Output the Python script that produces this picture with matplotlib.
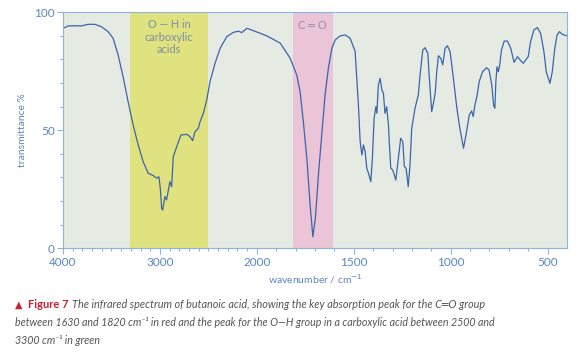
import numpy as np
import matplotlib
matplotlib.use('Agg')
from matplotlib import pyplot as plt

plt.rcParams['font.family'] = ['Lato', 'DejaVu Sans']

# wavenumber (cm-1) and transmittance (%)
wn = [4000, 3948, 3879, 3810, 3741, 3672, 3603, 3535, 3483, 3431, 3380, 3328,
      3276, 3224, 3173, 3121, 3069, 3034, 3010, 2995, 2982, 2972, 2948, 2931,
      2897, 2879, 2862, 2827, 2783, 2724, 2690, 2662, 2638, 2604, 2586, 2552,
      2517, 2483, 2431, 2379, 2310, 2241, 2190, 2155, 2103, 2035, 1948, 1879,
      1828, 1811, 1794, 1777, 1760, 1742, 1725, 1711, 1698, 1681, 1664, 1648,
      1631, 1613, 1596, 1570, 1544, 1519, 1493, 1476, 1467, 1458, 1450, 1441,
      1433, 1424, 1412, 1404, 1395, 1386, 1381, 1373, 1364, 1355, 1347, 1339,
      1330, 1321, 1316, 1309, 1299, 1283, 1270, 1258, 1247, 1239, 1230, 1219,
      1210, 1201, 1184, 1167, 1158, 1144, 1132, 1118, 1110, 1098, 1089, 1080,
      1072, 1063, 1051, 1041, 1029, 1017, 1003, 986, 969, 955, 934, 921, 904,
      892, 884, 875, 865, 853, 836, 815, 802, 788, 779, 772, 767, 761, 754,
      747, 738, 724, 707, 690, 673, 655, 638, 625, 613, 600, 588, 571, 553,
      536, 519, 507, 488, 476, 463, 451, 439, 425, 403]
trans = [93.2, 94.2, 94.3, 94.2, 94.9, 94.9, 93.9, 91.8, 89.0, 81.9, 72.7, 62.1,
         52.2, 43.8, 36.7, 31.8, 30.8, 29.7, 30.3, 25.0, 16.9, 16.2, 21.9, 20.5,
         28.2, 26.1, 38.8, 43.0, 48.0, 48.3, 47.3, 45.6, 49.4, 50.8, 53.6, 57.2,
         62.8, 70.6, 78.4, 84.7, 89.7, 91.5, 92.0, 91.4, 93.2, 92.2, 90.0, 86.9,
         80.5, 77.0, 73.4, 66.4, 53.6, 38.1, 18.3, 4.9, 12.7, 32.5, 49.4, 65.0,
         76.3, 84.7, 88.3, 90.0, 90.4, 89.0, 83.5, 60.7, 45.2, 39.5, 43.8, 40.9,
         33.9, 31.8, 28.2, 38.1, 55.1, 60.0, 57.2, 69.2, 72.0, 67.1, 65.7, 57.2,
         60.0, 52.2, 43.8, 33.9, 33.2, 28.9, 38.1, 46.6, 45.2, 34.6, 33.9, 26.1,
         35.3, 50.8, 59.3, 65.0, 73.4, 84.0, 85.0, 82.6, 72.0, 57.9, 61.4, 65.7,
         74.8, 81.6, 80.5, 77.7, 84.7, 85.8, 83.3, 72.0, 60.0, 52.0, 42.4, 48.0, 56.5,
         58.2, 55.8, 60.7, 64.2, 70.6, 74.8, 76.5, 75.6, 69.2, 60.7, 59.3, 70.6, 76.9, 74.8,
         77.7, 84.0, 87.8, 87.8, 84.7, 78.8, 81.2, 79.4, 78.4, 79.8, 81.2, 87.5, 92.5, 93.5,
         91.1, 83.3, 74.8, 69.9, 74.8, 84.7, 90.4, 91.8, 90.7, 90.1]

oh_band = (3310, 2500)
co_band = (1815, 1608)
major_ticks = [4000, 3000, 2000, 1500, 1000, 500]

blue = '#5a86c6'
spine = '#8db3e2'


# IR charts: 4000-2000 drawn at half the scale of 2000-400
def fwd(x):
    x = np.asarray(x, float)
    return np.where(x >= 2000, x / 2 + 1000, x)


def inv(y):
    y = np.asarray(y, float)
    return np.where(y >= 2000, (y - 1000) * 2, y)


fig = plt.figure(figsize=(5.81, 3.55), dpi=100)
ax = fig.add_axes([0.1084, 0.3006, 0.8675, 0.6648])
ax.set_facecolor('#e5ebe3')
ax.set_xscale('function', functions=(fwd, inv))
ax.set_xlim(4000, 400)
ax.set_ylim(0, 100)

ax.axvspan(*oh_band, color='#dfe27f', lw=0)
ax.axvspan(*co_band, color='#ebc5d7', lw=0)
ax.plot(wn, trans, color='#3b64ab', lw=0.9)

ax.text(2905, 89.5, 'O — H in\ncarboxylic\nacids', ha='center', va='center',
        fontsize=7.8, color='#7d8fa8', linespacing=1.2)
ax.text(1711, 94.5, 'C ═ O', ha='center', va='center', fontsize=8, color='#9a8cb0')

ax.set_xticks(major_ticks)
ax.set_xticklabels([str(t) for t in major_ticks])
minor = [v for v in range(500, 4000, 100) if v not in major_ticks]
ax.set_xticks(minor, minor=True)
ax.set_yticks([0, 50, 100])
ax.set_yticks(range(10, 100, 10), minor=True)
ax.tick_params(which='major', length=4, width=0.8, color=spine, labelcolor=blue,
               labelsize=8.5, pad=2)
ax.tick_params(which='minor', length=2.5, width=0.8, color=spine)
for s in ax.spines.values():
    s.set_color(spine)
    s.set_linewidth(0.8)

ax.set_ylabel('transmittance %', color=blue, fontsize=7.5, labelpad=5)
ax.set_xlabel('wavenumber / cm$^{-1}$', color=blue, fontsize=7.5, labelpad=3)

cap = '#555555'
y1, y2, y3 = 1 - 305 / 355, 1 - 323 / 355, 1 - 340 / 355
fig.text(15 / 581, y1, '▲', color='#c8202f', fontsize=7, va='center',
         family=['DejaVu Sans'])
fig.text(28 / 581, y1, 'Figure 7', color='#c8202f', fontsize=8,
         fontweight='bold', va='center')
fig.text(72 / 581, y1,
         'The infrared spectrum of butanoic acid, showing the key absorption peak for the C═O group',
         color=cap, fontsize=7.8, style='italic', va='center')
fig.text(15 / 581, y2,
         'between 1630 and 1820 cm⁻¹ in red and the peak for the O—H group in a carboxylic acid between 2500 and',
         color=cap, fontsize=7.7, style='italic', va='center')
fig.text(15 / 581, y3, '3300 cm⁻¹ in green',
         color=cap, fontsize=7.7, style='italic', va='center')

fig.savefig('out.png', dpi=100)
